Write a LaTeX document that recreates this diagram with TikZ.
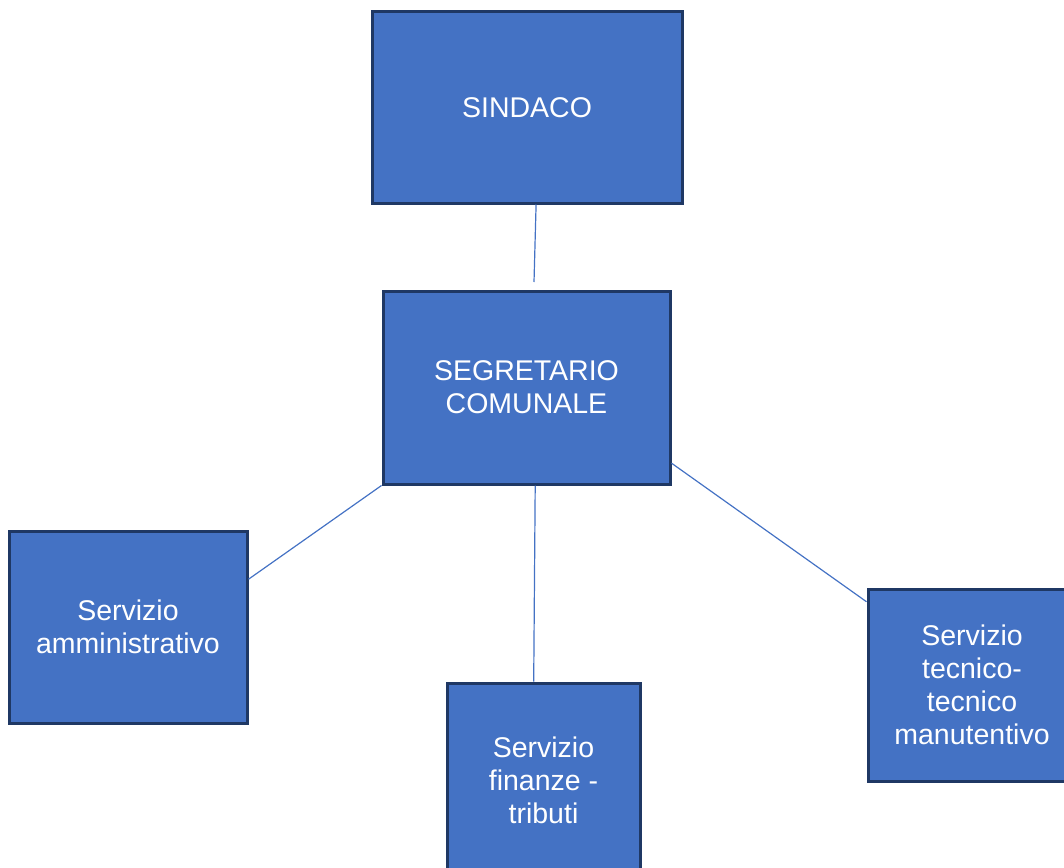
\documentclass[tikz,border=0pt]{standalone}
\usepackage{fontspec}
\setmainfont{Liberation Sans}
\usetikzlibrary{calc}
\definecolor{boxfill}{HTML}{4472C4}
\definecolor{boxline}{HTML}{1F3864}
\definecolor{conn}{HTML}{4472C4}
\begin{document}
\begin{tikzpicture}[x=1pt,y=-1pt,
  orgbox/.style={draw=boxline,line width=3pt,fill=boxfill,rectangle,inner sep=0pt,
    text=white,align=center,font=\fontsize{28.5}{33}\selectfont},
  connector/.style={draw=conn,line width=1.2pt}]
\useasboundingbox (0,0) rectangle (1064,867);
\clip (0,0) rectangle (1064,867);
\node[orgbox,minimum width=310pt,minimum height=191pt] (sindaco) at (527,107.5) {SINDACO};
\node[orgbox,minimum width=287pt,minimum height=193pt] (segr) at (526.5,387.5) {SEGRETARIO\\COMUNALE};
\node[orgbox,minimum width=238pt,minimum height=192pt] (amm) at (128,627) {Servizio\\amministrativo};
\node[orgbox,minimum width=193pt,minimum height=194pt] (fin) at (543.5,780) {Servizio\\finanze -\\tributi};
\node[orgbox,minimum width=208pt,minimum height=192pt] (tec) at (972,685) {Servizio\\tecnico-\\tecnico\\manutentivo};
\coordinate (sindend) at (534,282);
\draw[connector] ($(sindaco.south west)!0.529!(sindaco.south east)$) -- (sindend);
\draw[connector] (segr.south west) -- ($(amm.north east)!0.255!(amm.south east)$);
\draw[connector] ($(segr.south west)!0.53!(segr.south east)$) -- ($(fin.north west)!0.45!(fin.north east)$);
\draw[connector] ($(segr.north east)!0.886!(segr.south east)$) -- ($(tec.north west)!0.073!(tec.south west)$);
\end{tikzpicture}
\end{document}
